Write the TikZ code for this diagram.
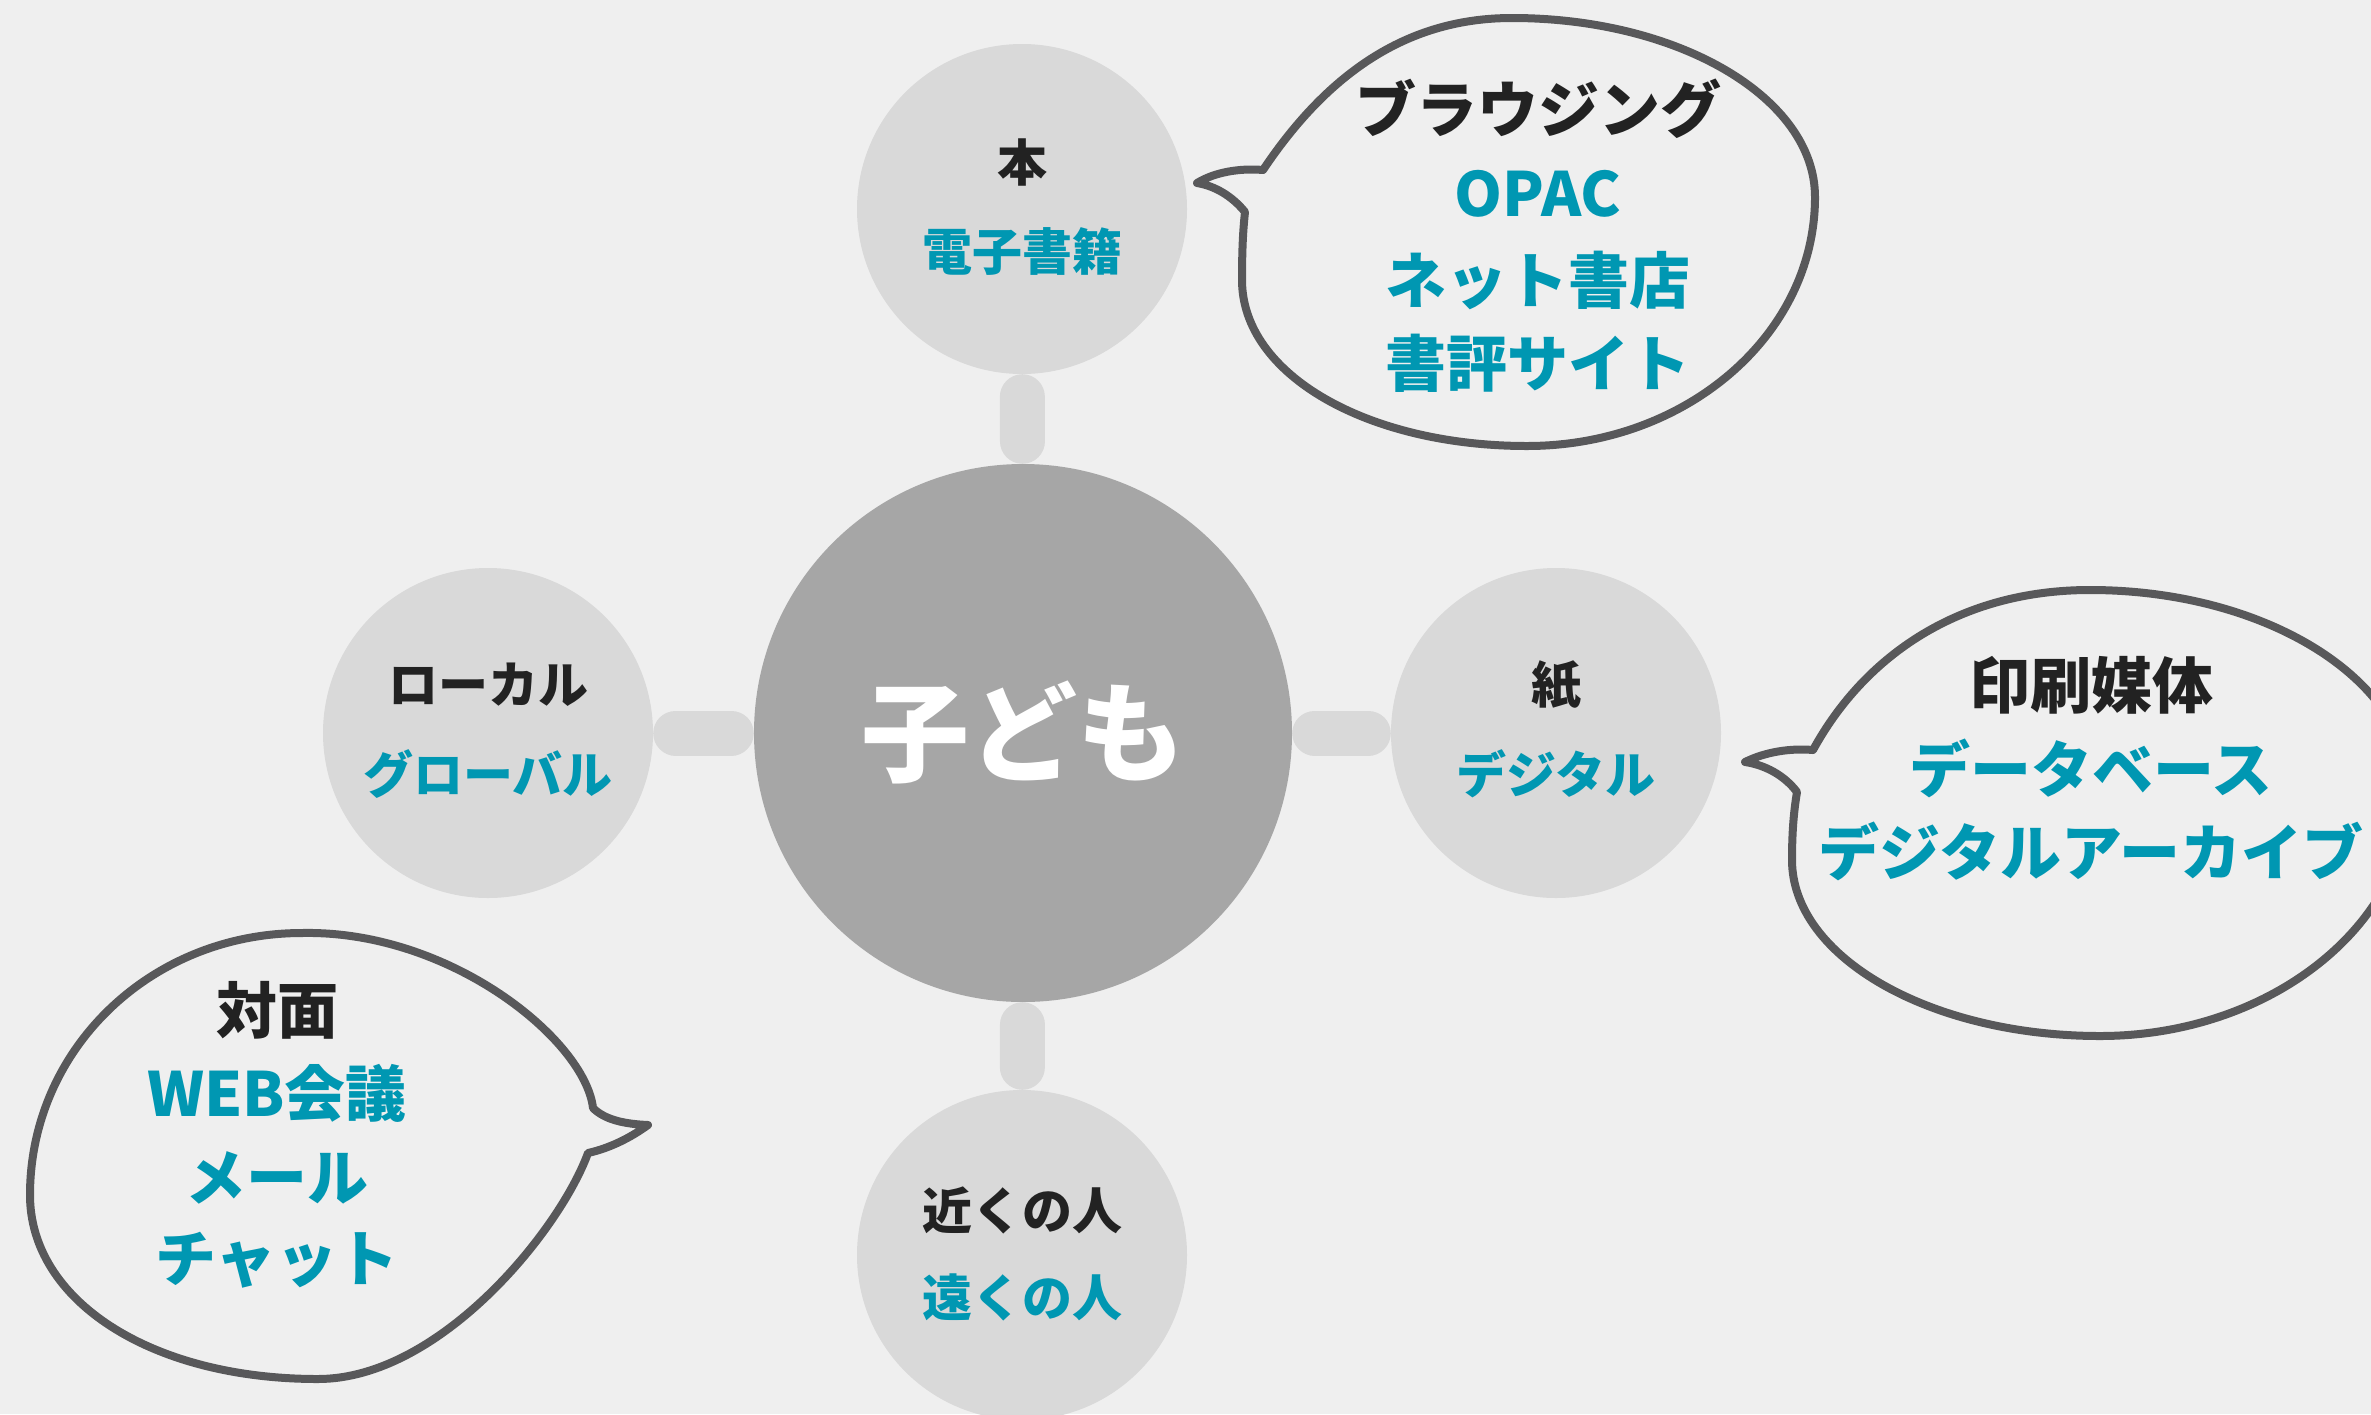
\documentclass[tikz,border=0pt]{standalone}
\usepackage{fontspec}
\setmainfont{Noto Sans CJK JP}
\definecolor{bg}{HTML}{EFEFEF}
\definecolor{sat}{HTML}{D9D9D9}
\definecolor{hub}{HTML}{A6A6A6}
\definecolor{tealtxt}{HTML}{0097B2}
\definecolor{ink}{HTML}{222222}
\definecolor{bubline}{HTML}{58585A}
\begin{document}
\begin{tikzpicture}[x=1pt,y=-1pt,
  satnode/.style={circle, fill=sat, minimum size=330pt, inner sep=0pt},
  hubnode/.style={circle, fill=hub, minimum size=538pt, inner sep=0pt, text=white, font=\bfseries\fontsize{108}{120}\selectfont},
  conn/.style={draw=sat, line width=45pt, line cap=round, shorten <=22.5pt, shorten >=22.5pt},
  headtxt/.style={text=ink, font=\bfseries\fontsize{50}{60}\selectfont, inner sep=0pt},
  subtxt/.style={text=tealtxt, font=\bfseries\fontsize{50}{60}\selectfont, inner sep=0pt},
  bhead/.style={text=ink, font=\bfseries\fontsize{61}{70}\selectfont, inner sep=0pt},
  bsub/.style={text=tealtxt, font=\bfseries\fontsize{61}{70}\selectfont, inner sep=0pt},
  bubble/.style={draw=bubline, line width=8pt, line join=round, line cap=round}
]
\useasboundingbox (0,0) rectangle (2371,1414);
\fill[bg] (0,0) rectangle (2371,1414);
\clip (0,0) rectangle (2371,1414);

% circles
\node[hubnode] (hub) at (1023,733) {子ども};
\node[satnode] (top) at (1022,209) {};
\node[satnode] (left) at (488,733) {};
\node[satnode] (right) at (1556,733) {};
\node[satnode] (bottom) at (1022,1255) {};

% connectors
\draw[conn] (top) -- (hub);
\draw[conn] (left) -- (hub);
\draw[conn] (right) -- (hub);
\draw[conn] (bottom) -- (hub);

% circle texts
\node[headtxt] (t1) at (1022,162) {本};
\node[subtxt] (t2) at (1022,251) {電子書籍};
\node[headtxt] (l1) at (488,685) {ローカル};
\node[subtxt] (l2) at (488,774) {グローバル};
\node[headtxt] (r1) at (1556,685) {紙};
\node[subtxt] (r2) at (1556,774) {デジタル};
\node[headtxt] (b1) at (1022,1210) {近くの人};
\node[subtxt] (b2) at (1022,1297) {遠くの人};

% bubble 1
\draw[bubble] (1263,170) .. controls (1330,70) and (1410,18) .. (1512,18)
  .. controls (1679,18) and (1815,98) .. (1815,197)
  .. controls (1815,335) and (1686,446) .. (1527,446)
  .. controls (1368,446) and (1242,375) .. (1242,280)
  .. controls (1242,250) and (1243,230) .. (1245,212)
  .. controls (1232,196) and (1215,186) .. (1197,183)
  .. controls (1215,172) and (1240,168) .. (1263,170) -- cycle;
\node[bhead] (p1) at (1538,109) {ブラウジング};
\node[bsub] (p2) at (1538,194) {OPAC};
\node[bsub] (p3) at (1538,280) {ネット書店};
\node[bsub] (p4) at (1538,363) {書評サイト};

% bubble 2
\draw[bubble] (1813,750) .. controls (1865,655) and (1960,590) .. (2090,590)
  .. controls (2266,590) and (2410,680) .. (2410,790)
  .. controls (2410,925) and (2270,1036) .. (2100,1036)
  .. controls (1930,1036) and (1792,957) .. (1792,860)
  .. controls (1792,830) and (1794,810) .. (1797,792)
  .. controls (1784,775) and (1765,765) .. (1745,762)
  .. controls (1765,752) and (1790,748) .. (1813,750) -- cycle;
\node[bhead] (q1) at (2091,685) {印刷媒体};
\node[bsub] (q2) at (2091,768) {データベース};
\node[bsub] (q3) at (2091,851) {デジタルアーカイブ};

% bubble 3
\draw[bubble] (302,933) .. controls (450,930) and (585,1040) .. (593,1108)
  .. controls (605,1120) and (625,1124) .. (648,1125)
  .. controls (630,1138) and (610,1148) .. (588,1153)
  .. controls (560,1230) and (440,1379) .. (318,1379)
  .. controls (150,1379) and (30,1300) .. (30,1195)
  .. controls (30,1050) and (150,933) .. (302,933) -- cycle;
\node[bhead] (s1) at (277,1010) {対面};
\node[bsub] (s2) at (277,1093) {WEB会議};
\node[bsub] (s3) at (277,1178) {メール};
\node[bsub] (s4) at (277,1260) {チャット};
\end{tikzpicture}
\end{document}
